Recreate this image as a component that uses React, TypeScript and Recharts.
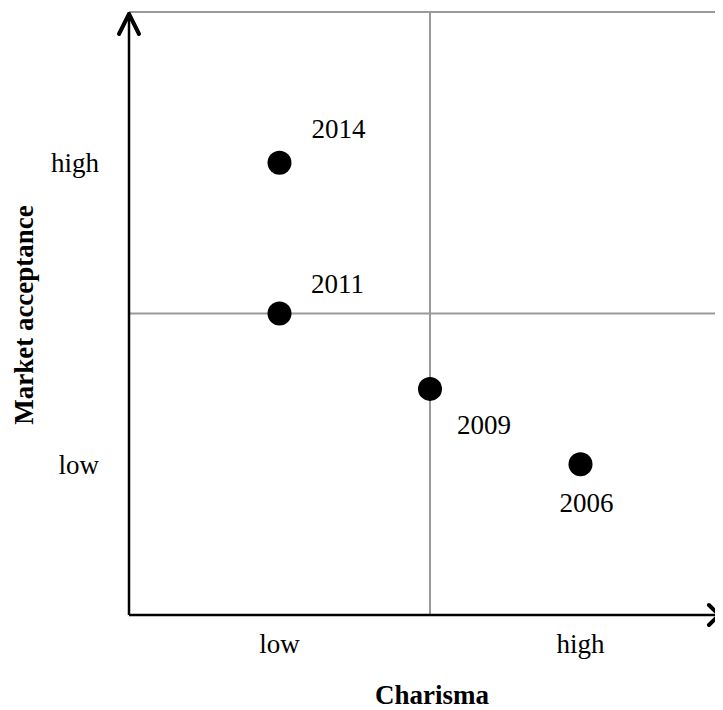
import React from 'react';
import {
  ScatterChart,
  Scatter,
  XAxis,
  YAxis,
  CartesianGrid,
  ReferenceLine,
  ReferenceDot,
  Label,
} from 'recharts';

// ---- data ----
const years = ['2014', '2011', '2009', '2006'];
const charisma = [1, 1, 2, 3];
const marketAcceptance = [3, 2, 1.5, 1];

const xTickValues = [1, 3];
const xTickLabels = ['low', 'high'];
const yTickValues = [1, 3];
const yTickLabels = ['low', 'high'];
const gridValues = [2, 4];
const axisMin = 0;
const axisMax = 4;
const xArrowEnd = 3.92;

const data = years.map((year, i) => ({ year, x: charisma[i], y: marketAcceptance[i] }));

// ---- style ----
const FONT = '"Liberation Serif", "Times New Roman", serif';
const FONT_SIZE = 27;
const labelPlacement: Record<string, { dx: number; dy: number }> = {
  '2014': { dx: 59, dy: -25 },
  '2011': { dx: 58, dy: -21 },
  '2009': { dx: 54, dy: 45 },
  '2006': { dx: 6, dy: 48 },
};

const PointShape = (props: any) => {
  const { cx, cy, payload } = props;
  const p = labelPlacement[payload.year] || { dx: 0, dy: -20 };
  return (
    <g>
      <circle cx={cx} cy={cy} r={12} fill="#000" />
      <text
        x={cx + p.dx}
        y={cy + p.dy}
        textAnchor="middle"
        fontFamily={FONT}
        fontSize={FONT_SIZE}
        fill="#000"
      >
        {payload.year}
      </text>
    </g>
  );
};

const UpArrow = (props: any) => {
  const { cx, cy } = props;
  const t = cy + 2;
  return (
    <path
      d={`M${cx - 10},${t + 20} L${cx},${t} L${cx + 10},${t + 20}`}
      stroke="#000"
      strokeWidth={4}
      fill="none"
      strokeLinecap="round"
      strokeLinejoin="round"
    />
  );
};

const RightArrow = (props: any) => {
  const { cx, cy } = props;
  return (
    <path
      d={`M${cx - 10},${cy - 10} L${cx},${cy} L${cx - 10},${cy + 10}`}
      stroke="#000"
      strokeWidth={4}
      fill="none"
      strokeLinecap="round"
      strokeLinejoin="round"
    />
  );
};

const xFmt = (v: number) => xTickLabels[xTickValues.indexOf(v)] ?? '';
const yFmt = (v: number) => yTickLabels[yTickValues.indexOf(v)] ?? '';

const XTitle = (props: any) => {
  const vb = props.viewBox || { x: 129, y: 615, width: 602, height: 95 };
  return (
    <text
      x={vb.x + vb.width / 2 + 2}
      y={vb.y + 89}
      textAnchor="middle"
      fontFamily={FONT}
      fontSize={FONT_SIZE}
      fontWeight="bold"
      fill="#000"
    >
      Charisma
    </text>
  );
};

const YTitle = (props: any) => {
  const vb = props.viewBox || { x: 0, y: 12, width: 129, height: 603 };
  const cx = vb.x + 33;
  const cy = vb.y + vb.height / 2 + 1.5;
  return (
    <text
      x={cx}
      y={cy}
      transform={`rotate(-90, ${cx}, ${cy})`}
      textAnchor="middle"
      fontFamily={FONT}
      fontSize={FONT_SIZE}
      fontWeight="bold"
      fill="#000"
    >
      Market acceptance
    </text>
  );
};

export default function App() {
  return (
    <div style={{ marginLeft: -8, marginTop: -8, width: 723, height: 710, overflow: 'hidden', background: '#fff' }}>
      <ScatterChart width={740} height={710} margin={{ top: 12, right: 9, bottom: 0, left: 0 }}>
        <XAxis
          xAxisId="main"
          type="number"
          dataKey="x"
          domain={[axisMin, axisMax]}
          ticks={xTickValues}
          tickFormatter={xFmt}
          interval={0}
          allowDataOverflow
          height={95}
          axisLine={false}
          tickLine={false}
          tickSize={0}
          tickMargin={19}
          tick={{ fill: '#000', fontSize: FONT_SIZE, fontFamily: FONT }}
        >
          <Label content={<XTitle />} />
        </XAxis>
        <YAxis
          yAxisId="main"
          type="number"
          dataKey="y"
          domain={[axisMin, axisMax]}
          ticks={yTickValues}
          tickFormatter={yFmt}
          interval={0}
          allowDataOverflow
          width={129}
          axisLine={false}
          tickLine={false}
          tickSize={0}
          tickMargin={30}
          tick={{ fill: '#000', fontSize: FONT_SIZE, fontFamily: FONT }}
        >
          <Label content={<YTitle />} />
        </YAxis>
        <XAxis xAxisId="grid" type="number" dataKey="x" domain={[axisMin, axisMax]} ticks={gridValues} hide height={0} allowDataOverflow />
        <YAxis yAxisId="grid" type="number" dataKey="y" domain={[axisMin, axisMax]} ticks={gridValues} hide width={0} allowDataOverflow />
        <CartesianGrid xAxisId="grid" yAxisId="grid" stroke="#9a9a9a" strokeWidth={2} />
        <ReferenceLine
          xAxisId="main"
          yAxisId="main"
          segment={[{ x: axisMin, y: axisMin }, { x: xArrowEnd, y: axisMin }]}
          stroke="#000"
          strokeWidth={2.5}
        />
        <ReferenceLine
          xAxisId="main"
          yAxisId="main"
          segment={[{ x: axisMin, y: axisMin }, { x: axisMin, y: axisMax }]}
          stroke="#000"
          strokeWidth={2.5}
        />
        <ReferenceDot xAxisId="main" yAxisId="main" x={axisMin} y={axisMax} shape={<UpArrow />} />
        <ReferenceDot xAxisId="main" yAxisId="main" x={xArrowEnd} y={axisMin} shape={<RightArrow />} />
        <Scatter
          xAxisId="main"
          yAxisId="main"
          data={data}
          dataKey="y"
          shape={<PointShape />}
          isAnimationActive={false}
        />
      </ScatterChart>
    </div>
  );
}
